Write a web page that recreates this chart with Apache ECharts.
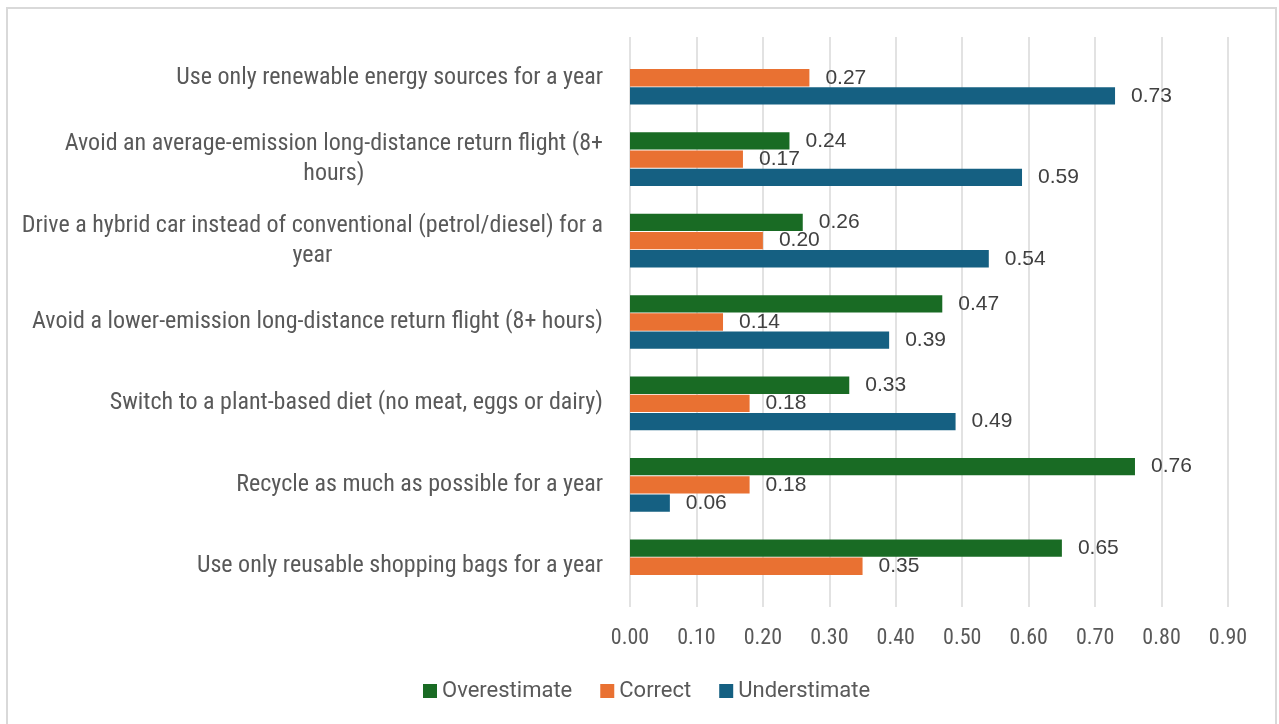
<!DOCTYPE html>
<html>
<head>
<meta charset="utf-8">
<script src="https://cdn.jsdelivr.net/npm/echarts@6/dist/echarts.min.js"></script>
<style>
  html, body { margin: 0; padding: 0; background: #fff; }
  #main { width: 1279px; height: 724px; }
  #frame { position: absolute; left: 6px; top: 7px; width: 1267px; height: 730px;
           border: 2px solid #d9d9d9; pointer-events: none; }
</style>
</head>
<body>
<div id="main"></div>
<div id="frame"></div>
<script>
// categories, bottom to top as on the axis
var categories = [
    'Use only reusable shopping bags for a year',
    'Recycle as much as possible for a year',
    'Switch to a plant-based diet (no meat, eggs or dairy)',
    'Avoid a lower-emission long-distance return flight (8+ hours)',
    'Drive a hybrid car instead of conventional (petrol/diesel) for a\nyear',
    'Avoid an average-emission long-distance return flight (8+\nhours)',
    'Use only renewable energy sources for a year'
];
var overestimate = [0.65, 0.76, 0.33, 0.47, 0.26, 0.24, '-'];
var correct = [0.35, 0.18, 0.18, 0.14, 0.20, 0.17, 0.27];
var understimate = ['-', 0.06, 0.49, 0.39, 0.54, 0.59, 0.73];
var seriesNames = ['Overestimate', 'Correct', 'Understimate'];

var myChart = echarts.init(document.getElementById('main'));

var narrow = '"Liberation Sans Narrow", "Arial Narrow", "Roboto Condensed", "Liberation Sans", sans-serif';

function barSeries(name, data) {
    return {
        name: name,
        type: 'bar',
        data: data,
        barGap: '5%',
        barCategoryGap: '34%',
        label: {
            show: true,
            position: 'right',
            distance: 16,
            color: '#404040',
            fontSize: 21,
            fontFamily: '"Liberation Sans", Arial, sans-serif',
            formatter: function (p) { return p.value.toFixed(2); }
        }
    };
}

option = {
    color: ['#196B24', '#E97132', '#156082'],
    animation: false,
    grid: { left: 630, right: 51, top: 37, bottom: 117, containLabel: false },
    legend: {
        data: seriesNames,
        bottom: 17,
        left: 418,
        icon: 'rect',
        itemWidth: 14,
        itemHeight: 14,
        itemGap: 28,
        textStyle: { color: '#595959', fontSize: 22, fontFamily: 'Roboto, "Liberation Sans", sans-serif' }
    },
    xAxis: {
        type: 'value',
        min: 0,
        max: 0.9,
        interval: 0.1,
        axisLine: { show: false },
        axisTick: { show: false },
        splitLine: { lineStyle: { color: '#d9d9d9', width: 1.5 } },
        axisLabel: {
            margin: 20,
            color: '#595959',
            fontSize: 22,
            fontFamily: narrow,
            formatter: function (v) { return v.toFixed(2); }
        }
    },
    yAxis: {
        type: 'category',
        data: categories,
        axisLine: { show: false },
        axisTick: { show: false },
        axisLabel: {
            margin: 27,
            align: 'right',
            formatter: function (v) {
                return v.split('\n').map(function (s) { return '{c|' + s + '}'; }).join('\n');
            },
            rich: {
                c: { align: 'center', fontSize: 24, lineHeight: 30, color: '#595959', fontFamily: narrow }
            }
        }
    },
    series: [
        barSeries(seriesNames[0], overestimate),
        barSeries(seriesNames[1], correct),
        barSeries(seriesNames[2], understimate)
    ]
};

myChart.setOption(option);
</script>
</body>
</html>
